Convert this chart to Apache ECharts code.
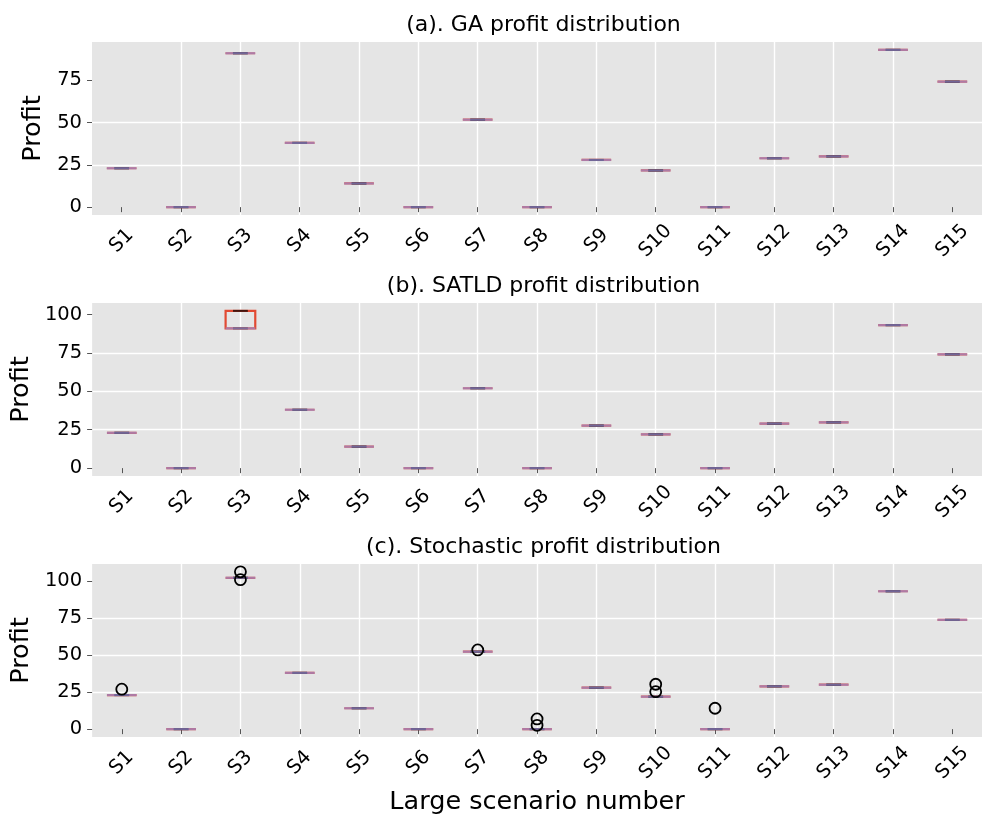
<!DOCTYPE html>
<html>
<head>
<meta charset="utf-8">
<script src="https://cdn.jsdelivr.net/npm/echarts@6/dist/echarts.min.js"></script>
<style>
  html, body { margin: 0; padding: 0; background: #fff; }
  #chart { width: 982px; height: 820px; }
</style>
</head>
<body>
<div id="chart"></div>
<script>
// Scenario names along the x axis
const categories = ['S1','S2','S3','S4','S5','S6','S7','S8','S9','S10','S11','S12','S13','S14','S15'];

// Tick labels on the profit axes
const yTicksGA = [0, 25, 50, 75];
const yTicksSATLD = [0, 25, 50, 75, 100];
const yTicksStochastic = [0, 25, 50, 75, 100];

// (a) GA: every run gives the same profit, so each box collapses to one value
const gaProfit = [23, 0, 91, 38, 14, 0, 51.7, 0, 27.9, 21.7, 0, 28.9, 30, 93, 74.2];

// (b) SATLD: [min, Q1, median, Q3, max] per scenario
const satldBoxes = [
  [23, 23, 23, 23, 23],
  [0, 0, 0, 0, 0],
  [91, 91, 91, 102.4, 102.4],
  [38, 38, 38, 38, 38],
  [14, 14, 14, 14, 14],
  [0, 0, 0, 0, 0],
  [52, 52, 52, 52, 52],
  [0, 0, 0, 0, 0],
  [27.7, 27.7, 27.7, 27.7, 27.7],
  [22, 22, 22, 22, 22],
  [0, 0, 0, 0, 0],
  [29, 29, 29, 29, 29],
  [29.8, 29.8, 29.8, 29.8, 29.8],
  [93.1, 93.1, 93.1, 93.1, 93.1],
  [74.1, 74.1, 74.1, 74.1, 74.1]
];

// (c) Stochastic: box level per scenario plus the outlying runs
const stochasticProfit = [23, 0, 102.2, 38, 14.1, 0, 52.3, 0, 28, 21.9, 0, 28.9, 30, 93.1, 73.8];
const stochasticOutliers = [
  ['S1', 27], ['S3', 106.2], ['S3', 100.9], ['S7', 53.5],
  ['S8', 6.9], ['S8', 2.6], ['S10', 30.3], ['S10', 25.3], ['S11', 14.1]
];

const RED = '#E24A33', PURPLE = '#988ED5';
const FONT = 'DejaVu Sans';

const pos = name => categories.indexOf(name) + 1;
const flatBox = v => [v, v, v, v, v];

function boxRows(stats) {
  return stats.map((s, i) => [i + 1].concat(s));
}

// padded range like an autoscaled axis (5% each side)
function padded(values) {
  const lo = Math.min.apply(null, values), hi = Math.max.apply(null, values);
  const m = (hi - lo) * 0.05;
  return [lo - m, hi + m];
}

// box: red outline and whiskers, black caps, purple median
function renderBox(params, api) {
  const x = api.value(0);
  const lo = api.value(1), q1 = api.value(2), med = api.value(3), q3 = api.value(4), hi = api.value(5);
  const unit = api.size([1, 0])[0];
  const bh = unit * 0.25, ch = unit * 0.125;
  const cx = api.coord([x, lo])[0];
  const y = v => api.coord([x, v])[1];
  const line = (x1, y1, x2, y2, color, w, op) => ({
    type: 'line',
    shape: { x1: x1, y1: y1, x2: x2, y2: y2 },
    style: { stroke: color, lineWidth: w, opacity: op == null ? 1 : op }
  });
  return {
    type: 'group',
    children: [
      line(cx, y(q3), cx, y(hi), RED, 1.8),
      line(cx, y(q1), cx, y(lo), RED, 1.8),
      {
        type: 'rect',
        shape: { x: cx - bh, y: y(q3), width: 2 * bh, height: y(q1) - y(q3) },
        style: { fill: 'none', stroke: RED, lineWidth: 2.2 }
      },
      line(cx - ch, y(hi), cx + ch, y(hi), '#000', 2, 0.7),
      line(cx - ch, y(lo), cx + ch, y(lo), '#000', 2, 0.7),
      line(cx - bh, y(med), cx + bh, y(med), PURPLE, 2.2, 0.7)
    ]
  };
}

const panels = [
  { title: '(a). GA profit distribution', top: 42, ticks: yTicksGA,
    boxes: boxRows(gaProfit.map(flatBox)), outliers: [], nameGap: 40 },
  { title: '(b). SATLD profit distribution', top: 303, ticks: yTicksSATLD,
    boxes: boxRows(satldBoxes), outliers: [], nameGap: 50 },
  { title: '(c). Stochastic profit distribution', top: 564, ticks: yTicksStochastic,
    boxes: boxRows(stochasticProfit.map(flatBox)),
    outliers: stochasticOutliers.map(o => [pos(o[0]), o[1]]), nameGap: 50 }
];

const GRID_LEFT = 92, GRID_W = 893, GRID_H = 173;

const option = {
  backgroundColor: '#ffffff',
  animation: false,
  title: [], grid: [], xAxis: [], yAxis: [], series: []
};

panels.forEach((p, i) => {
  const vals = [];
  p.boxes.forEach(r => vals.push(r[1], r[5]));
  p.outliers.forEach(o => vals.push(o[1]));
  const range = padded(vals);

  option.title.push({
    text: p.title,
    left: GRID_LEFT + GRID_W / 2,
    top: p.top - 33,
    textAlign: 'center',
    textStyle: { fontFamily: FONT, fontSize: 22, fontWeight: 'normal', color: '#000' }
  });
  option.grid.push({
    left: GRID_LEFT, top: p.top, width: GRID_W, height: GRID_H,
    show: true, backgroundColor: '#E5E5E5', borderWidth: 0
  });
  option.xAxis.push({
    type: 'value', gridIndex: i,
    min: 0.5, max: categories.length + 0.5,
    minInterval: 1, maxInterval: 1,
    name: i === panels.length - 1 ? 'Large scenario number' : '',
    nameLocation: 'middle', nameGap: 52,
    nameTextStyle: { fontFamily: FONT, fontSize: 25.5, color: '#000' },
    axisLine: { show: false },
    axisTick: { show: true, length: 5, lineStyle: { color: '#555555', width: 1 },
                customValues: categories.map((c, k) => k + 1) },
    axisLabel: {
      customValues: categories.map((c, k) => k + 1),
      formatter: v => categories[Math.round(v) - 1] || '',
      rotate: 45, align: 'center', verticalAlign: 'middle', margin: 26,
      fontFamily: FONT, fontSize: 19.5, color: '#000'
    },
    splitLine: { show: true, showMinLine: false, showMaxLine: false,
                 lineStyle: { color: '#ffffff', width: 1.4 } }
  });
  option.yAxis.push({
    type: 'value', gridIndex: i,
    min: range[0], max: range[1],
    minInterval: 25, maxInterval: 25,
    name: 'Profit', nameLocation: 'middle', nameRotate: 90,
    nameGap: p.nameGap,
    nameTextStyle: { fontFamily: FONT, fontSize: 25.5, color: '#000' },
    axisLine: { show: false },
    axisTick: { show: true, length: 5, lineStyle: { color: '#555555', width: 1 },
                customValues: p.ticks },
    axisLabel: { customValues: p.ticks, margin: 10,
                 fontFamily: FONT, fontSize: 19.5, color: '#000' },
    splitLine: { show: true, showMinLine: false, showMaxLine: false,
                 lineStyle: { color: '#ffffff', width: 1.4 } }
  });
  option.series.push({
    type: 'custom', xAxisIndex: i, yAxisIndex: i,
    renderItem: renderBox,
    encode: { x: 0, y: [1, 2, 3, 4, 5] },
    data: p.boxes, z: 2
  });
  if (p.outliers.length) {
    option.series.push({
      type: 'scatter', xAxisIndex: i, yAxisIndex: i,
      symbol: 'circle', symbolSize: 11,
      itemStyle: { color: 'rgba(0,0,0,0)', borderColor: '#000', borderWidth: 1.8, opacity: 1 },
      data: p.outliers, z: 3
    });
  }
});

const chart = echarts.init(document.getElementById('chart'), null, { renderer: 'canvas' });
chart.setOption(option);
</script>
</body>
</html>
